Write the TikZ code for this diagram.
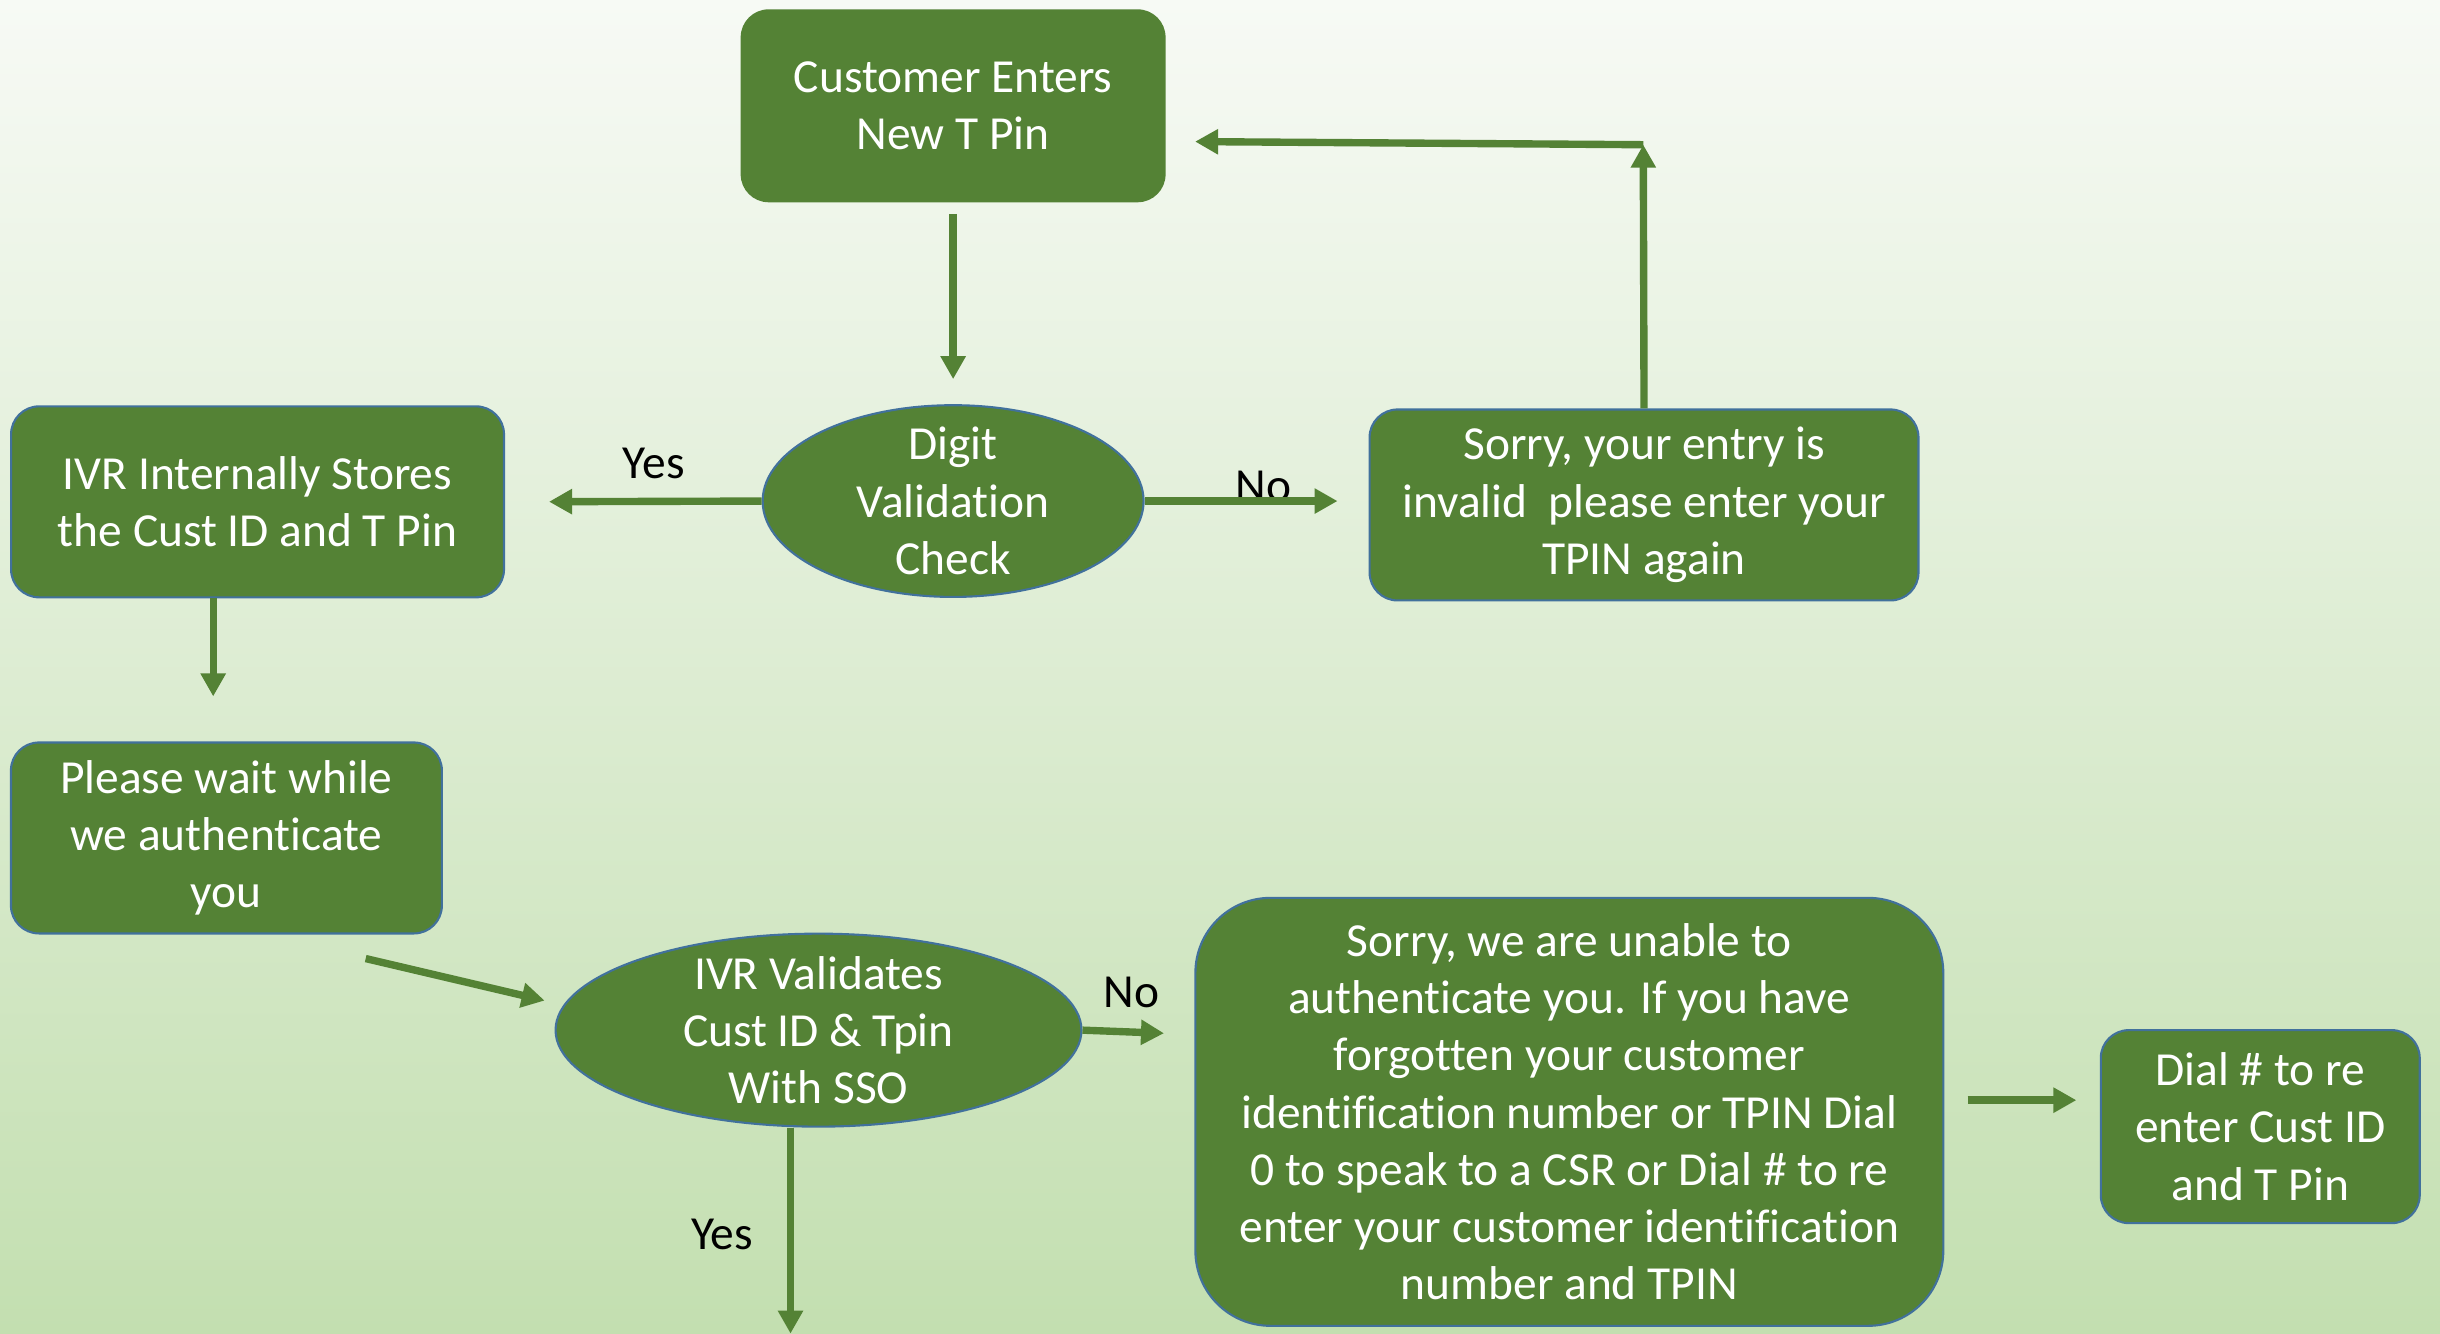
\documentclass[tikz,border=0pt]{standalone}
\usepackage{fontspec}
\setmainfont[Ligatures=NoCommon]{Carlito}
\usetikzlibrary{arrows.meta,shapes.geometric,calc}
\definecolor{boxgreen}{HTML}{548235}
\definecolor{edgeblue}{HTML}{41719C}
\definecolor{bgtop}{HTML}{F7FAF5}
\definecolor{bgbottom}{HTML}{C3DFB0}

\begin{document}
\begin{tikzpicture}[x=0.015561cm,y=-0.015561cm,>={Triangle[length=0.23cm,width=0.24cm]},
      font=\fontsize{13.5}{16.3}\selectfont,
      flow/.style={draw=boxgreen,line width=2.1pt,->},
      box node/.style={rectangle,rounded corners=0.28cm,fill=boxgreen,draw=edgeblue,
        line width=0.6pt,text=white,align=center,inner sep=0pt},
      check node/.style={ellipse,fill=boxgreen,draw=edgeblue,line width=0.6pt,
        text=white,align=center,inner xsep=0pt}]

      % background
      \shade[top color=bgtop,bottom color=bgbottom] (0,0) rectangle (1568,857);
      \useasboundingbox (0,0) rectangle (1568,857);

      \node[box node,draw=none,minimum width=4.25cm,minimum height=1.93cm] (enter) at (612.5,68) {Customer Enters\\New T Pin};
      \node[check node,inner ysep=-1.7pt,minimum width=3.81cm,minimum height=1.91cm] (digit) at (612.5,322) {Digit\\Validation\\Check};
      \node[box node,minimum width=5.49cm,minimum height=1.91cm] (invalid) at (1056.5,324.5) {Sorry, your entry is\\invalid\ \ please enter your\\TPIN again};
      \node[box node,minimum width=4.93cm,minimum height=1.91cm] (stores) at (165.5,322.5) {IVR Internally Stores\\the Cust ID and T Pin};
      \node[box node,minimum width=4.31cm,minimum height=1.91cm] (wait) at (145.5,538.5) {Please wait while\\we authenticate\\you};
      \node[check node,inner ysep=-2.2pt,minimum width=5.26cm,minimum height=1.93cm] (sso) at (526,662) {IVR Validates\\Cust ID \& Tpin\\With SSO};
      \node[box node,rounded corners=0.75cm,minimum width=7.48cm,minimum height=4.28cm] (unable) at (1008.5,714.5)
        {Sorry, we are unable to\\authenticate you. If you have\\forgotten your customer\\identification number or TPIN Dial\\0 to speak to a CSR or Dial \# to re\\enter your customer identification\\number and TPIN};
      \node[box node,minimum width=3.19cm,minimum height=1.93cm] (redial) at (1452.5,724) {Dial \# to re\\enter Cust ID\\and T Pin};

      \node (yes1) at (420,298) {Yes};
      \node[anchor=base] (no1) at (812,322) {No};
      \node (no2) at (727,638) {No};
      \node (yes2) at (464,793) {Yes};

      \coordinate (turn) at (1056,93);
      \coordinate (back) at (768,91);
      \coordinate (w1) at (235,616);
      \coordinate (w2) at (350,643);
      \coordinate (no2end) at (748,664);
      \coordinate (yesend) at (508,857);

      \draw[flow,shorten <=3pt,shorten >=0.25cm] (enter) -- (digit);
      \draw[flow,shorten >=0.44cm] (digit.west) -- (stores.east);
      \draw[flow,shorten >=0.31cm] (digit.east) -- (invalid.west |- digit.east);
      \draw[flow] (invalid.north) -- (turn);
      \draw[flow] (turn) -- (back);
      \draw[flow] ($(stores.south)+(-28.5,0)$) -- ++(0,63);
      \draw[flow] (w1) -- (w2);
      \draw[flow] (sso.east) -- (no2end);
      \draw[flow] (sso.south -| yesend) -- (yesend);
      \draw[flow] ($(unable.east)+(15,-7.5)$) -- ($(redial.west)+(-15,-17)$);
    \end{tikzpicture}
\end{document}
